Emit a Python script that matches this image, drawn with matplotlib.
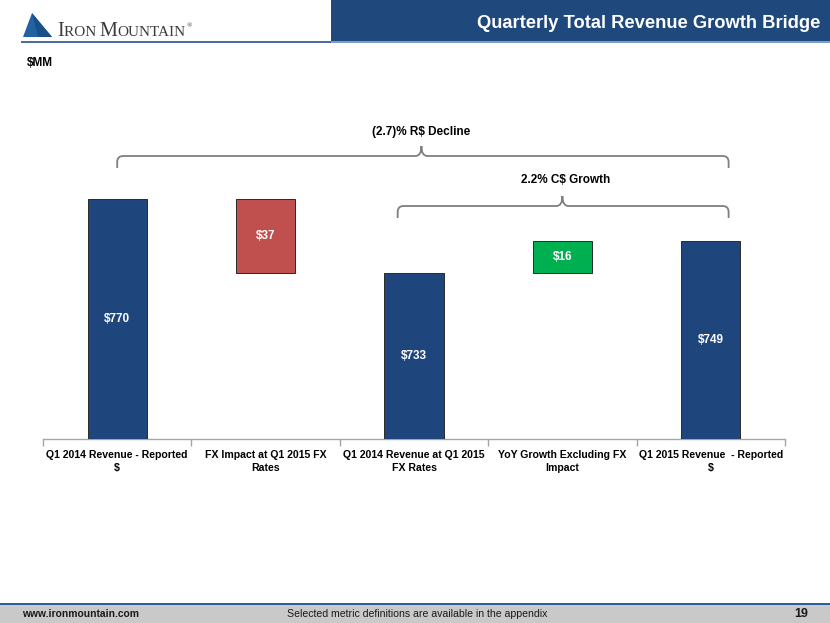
import matplotlib
matplotlib.use("Agg")
import matplotlib.pyplot as plt
from matplotlib.patches import Rectangle, Polygon, PathPatch
from matplotlib.path import Path
import numpy as np

categories = ["Q1 2014 Revenue - Reported\n$", "FX Impact at Q1 2015 FX\nRates",
              "Q1 2014 Revenue at Q1 2015\nFX Rates", "YoY Growth Excluding FX\nImpact",
              "Q1 2015 Revenue  - Reported\n$"]
values = [770, -37, 733, 16, 749]
kinds = ["total", "delta", "total", "delta", "total"]
labels = ["$770", "$37", "$733", "$16", "$749"]

brace_labels = ["(2.7)% R$ Decline", "2.2% C$ Growth"]

BLUE = "#1f467c"
RED = "#c0504d"
GREEN = "#00b050"

W, H = 830, 623
fig = plt.figure(figsize=(W / 100, H / 100), dpi=100)
fig.patch.set_facecolor("white")

sans = ["Liberation Sans", "DejaVu Sans"]

# waterfall: totals stand on the axis, FX drop hangs from the old total,
# growth sits on the restated total
bottoms, heights, colors = [], [], []
prev = 0
for v, k in zip(values, kinds):
    if k == "total":
        bottoms.append(0)
        heights.append(v)
        colors.append(BLUE)
        prev = v
    else:
        bottoms.append(min(prev, prev + v))
        heights.append(abs(v))
        colors.append(RED if v < 0 else GREEN)
        prev = prev + v
bottoms[3] = values[2]

ax = fig.add_axes([43 / W, 1 - 439 / H, (785 - 43) / W, (439 - 120) / H])
ymin, ymax = 650, 809.5
x = np.arange(len(categories))
ax.bar(x, heights, bottom=bottoms, width=0.4, color=colors,
       edgecolor="#2a2a2a", linewidth=0.7, zorder=3)
ax.set_xlim(-0.5, len(categories) - 0.5)
ax.set_ylim(ymin, ymax)

for i in range(len(categories)):
    lo = max(bottoms[i], ymin)
    hi = bottoms[i] + heights[i]
    ax.text(x[i], (lo + hi) / 2, labels[i], ha="center", va="center",
            color="white", fontsize=8.5, fontweight="bold", family=sans, zorder=4)

for s in ["top", "left", "right"]:
    ax.spines[s].set_visible(False)
ax.spines["bottom"].set_color("#a6a6a6")
ax.spines["bottom"].set_linewidth(1.0)
ax.set_yticks([])
ax.set_xticks(x)
ax.set_xticklabels(categories, fontsize=7.6, fontweight="bold", family=sans,
                   linespacing=1.4)
ax.tick_params(axis="x", which="major", length=0, pad=8)
ax.set_xticks(np.arange(-0.5, len(categories)), minor=True)
ax.tick_params(axis="x", which="minor", length=5, color="#a6a6a6", width=1)

# braces
px_x = 1 / 148.4   # data units per pixel horizontally
px_y = 0.5         # data units per pixel vertically


def brace(ax, x0, x1, xt, y, drop=12, tip=10, r=6):
    rx, ry = r * px_x, r * px_y
    verts = [(x0, y - drop * px_y), (x0, y - ry),
             (x0, y), (x0 + rx, y),
             (xt - rx, y),
             (xt, y), (xt, y + tip * px_y),
             (xt, y), (xt + rx, y),
             (x1 - rx, y),
             (x1, y), (x1, y - ry),
             (x1, y - drop * px_y)]
    codes = [Path.MOVETO, Path.LINETO,
             Path.CURVE3, Path.CURVE3,
             Path.LINETO,
             Path.CURVE3, Path.CURVE3,
             Path.CURVE3, Path.CURVE3,
             Path.LINETO,
             Path.CURVE3, Path.CURVE3,
             Path.LINETO]
    ax.add_patch(PathPatch(Path(verts, codes), fill=False, edgecolor="#7f7f7f",
                           linewidth=1.3, clip_on=False, zorder=2))


brace(ax, 0.0, 4.12, 2.05, 791.5)
ax.text(2.05, 803.5, brace_labels[0], ha="center", va="center", fontsize=8.5,
        fontweight="bold", family=sans, color="black")
brace(ax, 1.89, 4.12, 3.0, 766.5)
ax.text(3.02, 779.5, brace_labels[1], ha="center", va="center", fontsize=8.5,
        fontweight="bold", family=sans, color="black")

# header
fig.patches.append(Rectangle((331 / W, 1 - 42 / H), (W - 331) / W, 42 / H,
                             transform=fig.transFigure, facecolor="#1f497d",
                             edgecolor="none", zorder=1))
fig.patches.append(Rectangle((331 / W, 1 - 43 / H), (W - 331) / W, 1.5 / H,
                             transform=fig.transFigure, facecolor="#7f9cc4",
                             edgecolor="none", zorder=1))
fig.patches.append(Rectangle((21 / W, 1 - 43 / H), (331 - 21) / W, 1.6 / H,
                             transform=fig.transFigure, facecolor="#4d6e9c",
                             edgecolor="none", zorder=1))
fig.text(820 / W, 1 - 23 / H, "Quarterly Total Revenue Growth Bridge", ha="right",
         va="center", color="white", fontsize=13.2, fontweight="bold", family=sans)

# logo
fig.patches.append(Polygon([(23 / W, 1 - 37 / H), (32 / W, 1 - 13 / H), (52 / W, 1 - 37 / H)],
                           closed=True, transform=fig.transFigure,
                           facecolor="#2262a3", edgecolor="none"))
fig.patches.append(Polygon([(32 / W, 1 - 13 / H), (38 / W, 1 - 37 / H), (52 / W, 1 - 37 / H)],
                           closed=True, transform=fig.transFigure,
                           facecolor="#1a4f8a", edgecolor="none"))
serif = ["Liberation Serif", "DejaVu Serif"]
renderer = fig.canvas.get_renderer()
xpos = 57
base = 1 - 36 / H
for txt, size in [("I", 14.5), ("RON ", 11), ("M", 14.5), ("OUNTAIN", 11)]:
    t = fig.text(xpos / W, base, txt, ha="left", va="baseline", fontsize=size,
                 family=serif, color="#3b3b3b")
    xpos += t.get_window_extent(renderer).width
fig.text((xpos + 0.5) / W, 1 - 27 / H, "®", ha="left", va="baseline", fontsize=5,
         family=serif, color="#3b3b3b")

fig.text(27 / W, 1 - 63 / H, "$MM", ha="left", va="center", fontsize=8.5,
         fontweight="bold", family=sans)

# footer
fig.patches.append(Rectangle((0, 0), 1, (H - 604) / H, transform=fig.transFigure,
                             facecolor="#c9c9c9", edgecolor="none"))
fig.patches.append(Rectangle((0, (H - 605) / H), 1, 2 / H, transform=fig.transFigure,
                             facecolor="#2f5c9c", edgecolor="none"))
fig.text(22 / W, 1 - 614 / H, "www.ironmountain.com", ha="left", va="center",
         fontsize=7.4, fontweight="bold", family=sans, color="#1a1a1a")
fig.text(287 / W, 1 - 614 / H, "Selected metric definitions are available in the appendix",
         ha="left", va="center", fontsize=7.6, family=sans, color="#1a1a1a")
fig.text(808 / W, 1 - 614 / H, "19", ha="right", va="center", fontsize=9,
         fontweight="bold", family=sans, color="#1a1a1a")

fig.savefig("out.png", dpi=100)
